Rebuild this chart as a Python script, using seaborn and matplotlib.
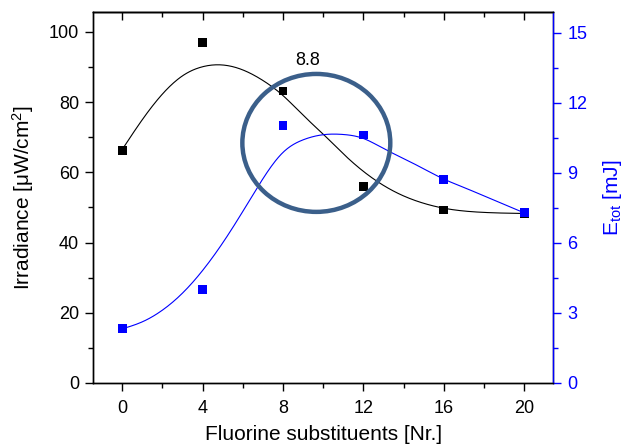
import matplotlib
matplotlib.use("Agg")
import matplotlib.pyplot as plt
import seaborn as sns
import pandas as pd
import numpy as np
from matplotlib.patches import Ellipse
from matplotlib.ticker import MultipleLocator

# ---- data ----
fluorine = [0, 4, 8, 12, 16, 20]
irradiance = [66.2, 97.0, 83.2, 55.9, 49.3, 48.3]
e_tot = [2.32, 4.0, 11.04, 10.63, 8.72, 7.29]

# fitted curves at integer x
curve_x = [0, 1, 2, 3, 4, 5, 6, 7, 8, 9, 10, 11, 12, 13, 14, 15, 16, 17, 18, 19, 20]
irr_curve = [66.5, 75.0, 82.3, 87.5, 90.1, 90.6, 89.2, 86.2, 81.9, 76.3, 70.9,
             65.3, 60.3, 56.3, 53.3, 51.2, 49.8, 49.0, 48.6, 48.4, 48.3]
e_curve = [2.32, 2.62, 3.12, 3.85, 4.82, 6.0, 7.35, 8.75, 9.88, 10.42, 10.64,
           10.65, 10.48, 10.05, 9.62, 9.18, 8.74, 8.38, 8.02, 7.66, 7.29]

annot_text = "8.8"


def smooth_render(xs, ys, n=400):
    """Natural cubic spline through the read curve samples (rendering only)."""
    xs = np.asarray(xs, float)
    ys = np.asarray(ys, float)
    m = len(xs)
    h = np.diff(xs)
    A = np.zeros((m, m))
    b = np.zeros(m)
    A[0, 0] = A[-1, -1] = 1
    for i in range(1, m - 1):
        A[i, i - 1] = h[i - 1]
        A[i, i] = 2 * (h[i - 1] + h[i])
        A[i, i + 1] = h[i]
        b[i] = 3 * ((ys[i + 1] - ys[i]) / h[i] - (ys[i] - ys[i - 1]) / h[i - 1])
    c = np.linalg.solve(A, b)
    bb = (ys[1:] - ys[:-1]) / h - h * (2 * c[:-1] + c[1:]) / 3
    d = (c[1:] - c[:-1]) / (3 * h)
    xf = np.linspace(xs[0], xs[-1], n)
    idx = np.clip(np.searchsorted(xs, xf) - 1, 0, m - 2)
    dx = xf - xs[idx]
    yf = ys[idx] + bb[idx] * dx + c[idx] * dx ** 2 + d[idx] * dx ** 3
    return xf, yf


sns.set_style("ticks")
plt.rcParams['font.family'] = ['Liberation Sans', 'DejaVu Sans']
plt.rcParams['mathtext.fontset'] = 'custom'
plt.rcParams['mathtext.rm'] = 'Liberation Sans'
plt.rcParams['mathtext.it'] = 'Liberation Sans:italic'
plt.rcParams['text.color'] = 'black'
plt.rcParams['axes.labelcolor'] = 'black'
plt.rcParams['xtick.color'] = 'black'
plt.rcParams['ytick.color'] = 'black'
plt.rcParams['axes.edgecolor'] = 'black'

fig = plt.figure(figsize=(6.25, 4.44), dpi=100)
ax = fig.add_axes([0.1488, 0.1374, 0.8853 - 0.1488, 0.973 - 0.1374])
ax2 = ax.twinx()

pts = pd.DataFrame({"x": fluorine, "irr": irradiance, "e": e_tot})
xf, irr_f = smooth_render(curve_x, irr_curve)
_, e_f = smooth_render(curve_x, e_curve)
cur = pd.DataFrame({"x": xf, "irr": irr_f, "e": e_f})

sns.lineplot(data=cur, x="x", y="irr", ax=ax, color="black", lw=0.8, zorder=2)
sns.scatterplot(data=pts, x="x", y="irr", ax=ax, color="black", marker="s",
                s=40, edgecolor="none", linewidth=0, zorder=3)
sns.lineplot(data=cur, x="x", y="e", ax=ax2, color="#0000FF", lw=0.8, zorder=2)
sns.scatterplot(data=pts, x="x", y="e", ax=ax2, color="#0000FF", marker="s",
                s=40, edgecolor="none", linewidth=0, zorder=3)

ax.set_xlim(-1.45, 21.45)
ax.set_ylim(0, 105.7)
ax2.set_ylim(0, 15.9)

ax.xaxis.set_major_locator(MultipleLocator(4))
ax.xaxis.set_minor_locator(MultipleLocator(2))
ax.yaxis.set_major_locator(MultipleLocator(20))
ax.yaxis.set_minor_locator(MultipleLocator(10))
ax2.yaxis.set_major_locator(MultipleLocator(3))
ax2.yaxis.set_minor_locator(MultipleLocator(1.5))

fs = 13
lfs = 15
ax.tick_params(axis="x", which="major", direction="out", length=6, width=1,
               labelsize=fs, pad=6, top=False)
ax.tick_params(axis="x", which="minor", direction="out", length=3.5, width=1, top=False)
ax.tick_params(axis="y", which="major", direction="out", length=6, width=1,
               labelsize=fs, pad=4)
ax.tick_params(axis="y", which="minor", direction="out", length=3.5, width=1)
ax2.tick_params(axis="y", which="major", direction="out", length=6, width=1,
                labelsize=fs, colors="#0000FF", pad=4)
ax2.tick_params(axis="y", which="minor", direction="out", length=3.5, width=1,
                colors="#0000FF")
ax2.spines["right"].set_color("#0000FF")

for s in list(ax.spines.values()) + list(ax2.spines.values()):
    s.set_linewidth(1)

ax.set_xlabel("Fluorine substituents [Nr.]", fontsize=lfs, labelpad=6)
ax.set_ylabel("Irradiance [μW/cm$^2$]", fontsize=lfs, labelpad=9)
ax2.set_ylabel("E$_{\\mathrm{tot}}$ [mJ]", fontsize=lfs, color="#0000FF", labelpad=10)

# inward ticks on the top spine
secx = ax.secondary_xaxis("top")
secx.xaxis.set_major_locator(MultipleLocator(4))
secx.xaxis.set_minor_locator(MultipleLocator(2))
secx.tick_params(axis="x", which="major", direction="in", length=6, width=1, labeltop=False)
secx.tick_params(axis="x", which="minor", direction="in", length=3.5, width=1)
secx.spines["top"].set_linewidth(1)

ell = Ellipse((9.66, 68.4), 7.36, 39.3, transform=ax.transData, fill=False,
              edgecolor="#3B5F8A", lw=3.2, zorder=5)
ax2.add_patch(ell)
ax2.text(9.22, 92.0, annot_text, transform=ax.transData, fontsize=fs,
         ha="center", va="center", zorder=6)

fig.savefig("out.png", dpi=100)
